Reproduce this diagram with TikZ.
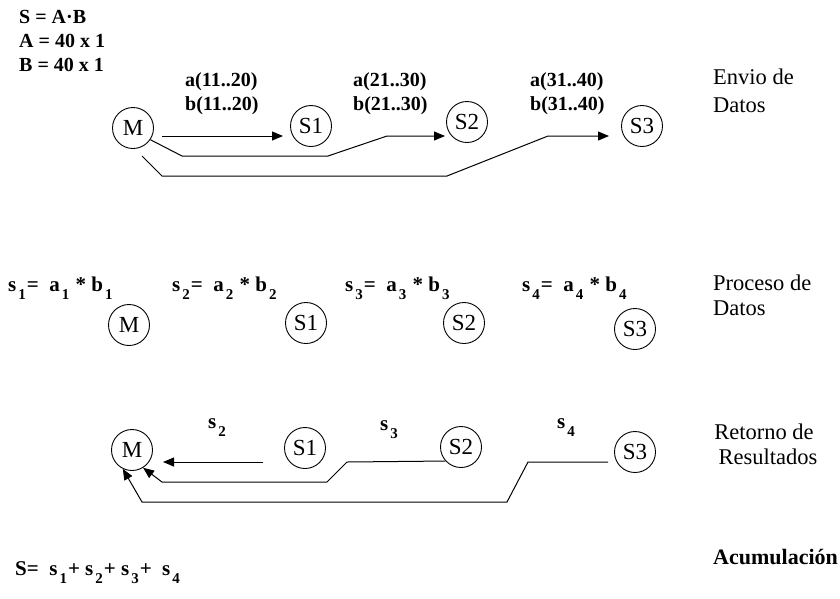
\documentclass[tikz,border=0pt]{standalone}
\usepackage{fontspec}
\setmainfont{Liberation Serif}
\usetikzlibrary{arrows.meta,calc}
\newcommand\sbs[1]{\hspace{2pt}\raisebox{-8pt}{\fontsize{15}{15}\selectfont #1}\hspace{1pt}}
\tikzset{
  proc/.style={circle,draw,line width=0.9pt,minimum size=41pt,inner sep=0pt,font=\fontsize{23}{26}\selectfont},
  lbl/.style={anchor=west,inner sep=0pt,font=\fontsize{20}{24}\selectfont\bfseries},
  frm/.style={anchor=west,inner sep=0pt,font=\fontsize{21}{24}\selectfont\bfseries},
  head/.style={anchor=west,inner sep=0pt,font=\fontsize{22.5}{26}\selectfont},
  conn/.style={line width=1pt},
  arr/.style={line width=1pt,-{Triangle[length=11pt,width=9pt]}}
}
\begin{document}
\begin{tikzpicture}[x=1pt,y=-1pt]
\useasboundingbox[fill=white] (0,0) rectangle (840,598);
% ---------- Envio de datos ----------
\node[lbl] (eq1) at (19,17) {S = A·B};
\node[lbl] (eq2) at (19,41) {A = 40 x 1};
\node[lbl] (eq3) at (19,65) {B = 40 x 1};
\node[proc] (M1) at (133,128) {M};
\node[proc] (A1) at (311,126) {S1};
\node[proc] (A2) at (467,122) {S2};
\node[proc] (A3) at (642,126) {S3};
\node[lbl] (la1) at (185,82) {a(11..20)};
\node[lbl] (lb1) at (185,106) {b(11..20)};
\node[lbl] (la2) at (353,82) {a(21..30)};
\node[lbl] (lb2) at (353,106) {b(21..30)};
\node[lbl] (la3) at (530,82) {a(31..40)};
\node[lbl] (lb3) at (530,106) {b(31..40)};
\node[head] (h1a) at (713,77) {Envio de};
\node[head] (h1b) at (713,105) {Datos};
\coordinate (t1s) at ([shift={(29,8)}]M1.center);
\coordinate (t1e) at ([shift={(-28,10)}]A1.center);
\draw[arr] (t1s) -- (t1e);
\coordinate (t2e) at ([shift={(-22,14)}]A2.center);
\draw[arr] (M1.-34) -- (182,156) -- (328,156) -- (387,136) -- (t2e);
\coordinate (t3s) at ([shift={(9,28)}]M1.center);
\coordinate (t3e) at ([shift={(-33,10)}]A3.center);
\draw[arr] (t3s) -- (162,176) -- (447,176) -- (548,136) -- (t3e);
% ---------- Proceso de datos ----------
\node[frm] (p1) at (8,288) {s\sbs{1}=\ \ a\sbs{1} * b\sbs{1}};
\node[frm] (p2) at (172,288) {s\sbs{2}=\ \ a\sbs{2} * b\sbs{2}};
\node[frm] (p3) at (345,288) {s\sbs{3}=\ \ a\sbs{3} * b\sbs{3}};
\node[frm] (p4) at (522,288) {s\sbs{4}=\ \ a\sbs{4} * b\sbs{4}};
\node[proc] (M2) at (129,325) {M};
\node[proc] (B1) at (306,323) {S1};
\node[proc] (B2) at (464,323) {S2};
\node[proc] (B3) at (635,329) {S3};
\node[head] (h2a) at (713,283) {Proceso de};
\node[head] (h2b) at (713,308) {Datos};
% ---------- Retorno de resultados ----------
\node[proc] (M3) at (132,450) {M};
\node[proc] (C1) at (305,448) {S1};
\node[proc] (C2) at (461,447) {S2};
\node[proc] (C3) at (635,452) {S3};
\node[frm] (r2) at (208,428) {s\sbs{2}};
\node[frm] (r3) at (380,430) {s\sbs{3}};
\node[frm] (r4) at (557,428) {s\sbs{4}};
\node[head,anchor=center] (h3a) at (764,432) {Retorno de};
\node[head,anchor=center] (h3b) at (768,457) {Resultados};
\coordinate (u1s) at ([shift={(-42,14)}]C1.center);
\coordinate (u1e) at ([shift={(31,12)}]M3.center);
\draw[arr] (u1s) -- (u1e);
\draw[arr] (C2.222) -- (347,462) -- (327,482) -- (162,482) -- (M3.-58);
\coordinate (u3s) at ([shift={(-27,10)}]C3.center);
\draw[arr] (u3s) -- (528,462) -- (507,502) -- (142,502) -- (M3.-116);
% ---------- Acumulacion ----------
\node[frm] (acc) at (15,573) {S=\ \ s\sbs{1}+ s\sbs{2}+ s\sbs{3}+\ \ s\sbs{4}};
\node[head,font=\fontsize{22}{26}\selectfont\bfseries] (h4) at (713,557) {Acumulación};
\end{tikzpicture}
\end{document}
